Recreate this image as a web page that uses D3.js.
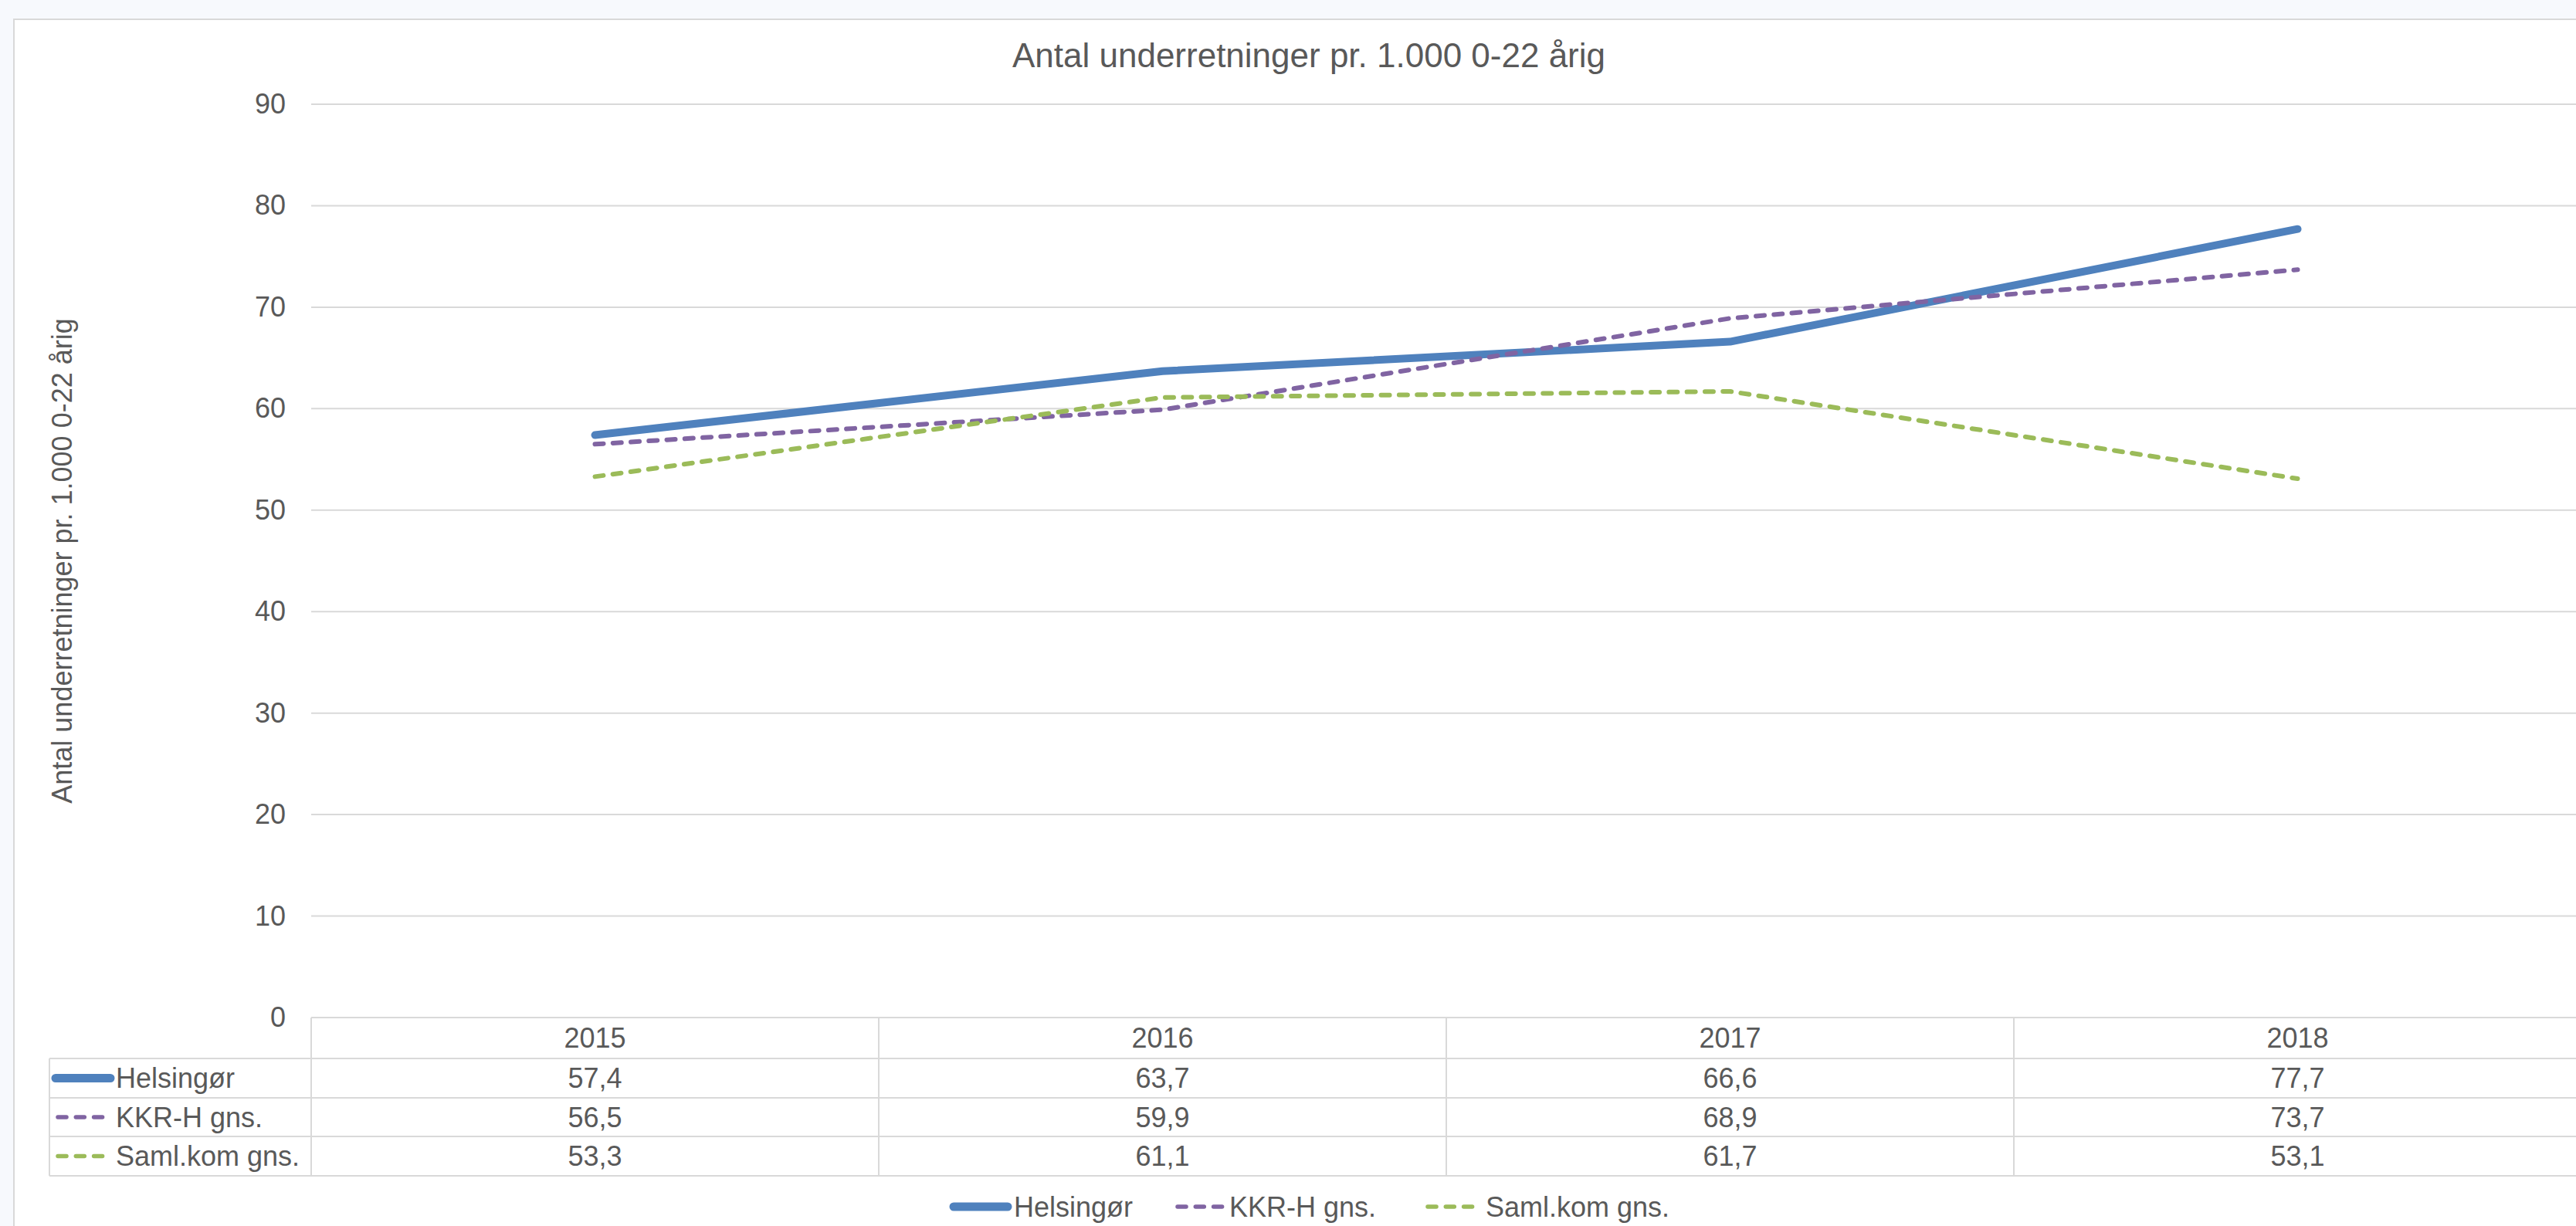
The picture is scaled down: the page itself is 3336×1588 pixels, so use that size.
<!DOCTYPE html>
<html><head><meta charset="utf-8">
<script src="https://cdn.jsdelivr.net/npm/d3@7"></script>
<style>
html,body{margin:0;padding:0;background:#f7f9fd;}
svg{display:block;}
text{font-family:"Liberation Sans",Arial,sans-serif;fill:#595959;}
</style></head>
<body>
<svg id="c" width="3336" height="1588"></svg>
<script>
const categories = ["2015","2016","2017","2018"];
const seriesNames = ["Helsingør","KKR-H gns.","Saml.kom gns."];
const helsingor = [57.4, 63.7, 66.6, 77.7];
const kkrh = [56.5, 59.9, 68.9, 73.7];
const samlkom = [53.3, 61.1, 61.7, 53.1];
const yTicks = [0,10,20,30,40,50,60,70,80,90];
const chartTitle = "Antal underretninger pr. 1.000 0-22 årig";
const yTitle = "Antal underretninger  pr. 1.000 0-22 årig";

const seriesValues = [helsingor, kkrh, samlkom];
const styles = [
  {color:"#4f81bd", width:10, dash:null},
  {color:"#8064a2", width:6, dash:"11,12.3"},
  {color:"#9bbb59", width:6, dash:"11,12.3"}
];

const svg = d3.select("#c");
const plotL = 403, plotR = 3343, plotT = 135, plotB = 1318;
const fmt = v => v.toFixed(1).replace(".", ",");
const FS = 36;

// chart frame
svg.append("rect").attr("x",18).attr("y",25).attr("width",3400).attr("height",1700)
  .attr("fill","#ffffff").attr("stroke","#d9d9d9").attr("stroke-width",2);

const x = d3.scaleBand().domain(categories).range([plotL, plotR]).paddingInner(0).paddingOuter(0);
const y = d3.scaleLinear().domain([0,90]).range([plotB, plotT]);

// gridlines
svg.append("g").selectAll("line").data(yTicks.filter(d=>d>0)).join("line")
  .attr("x1",plotL).attr("x2",plotR).attr("y1",d=>y(d)).attr("y2",d=>y(d))
  .attr("stroke","#d9d9d9").attr("stroke-width",2);

// y axis
const yAxis = d3.axisLeft(y).tickValues(yTicks).tickSize(0).tickPadding(33).tickFormat(d3.format("d"));
const gy = svg.append("g").attr("transform",`translate(${plotL},0)`).call(yAxis);
gy.select(".domain").remove();
gy.selectAll("text").attr("font-size",FS).style("font-family","Liberation Sans, Arial, sans-serif").attr("fill","#595959");

// data table
const rowLines = [1318, 1371, 1422, 1472, 1523];
const tableL = 64;
const tg = svg.append("g").attr("stroke","#d9d9d9").attr("stroke-width",2);
tg.append("line").attr("x1",plotL).attr("x2",plotR).attr("y1",rowLines[0]).attr("y2",rowLines[0]);
rowLines.slice(1).forEach(yy=>{
  tg.append("line").attr("x1",tableL).attr("x2",plotR).attr("y1",yy).attr("y2",yy);
});
tg.append("line").attr("x1",tableL).attr("x2",tableL).attr("y1",rowLines[1]).attr("y2",rowLines[4]);
categories.forEach(c=>{
  const xx = x(c);
  tg.append("line").attr("x1",xx).attr("x2",xx).attr("y1",rowLines[0]).attr("y2",rowLines[4]);
});

// header labels
svg.append("g").selectAll("text").data(categories).join("text")
  .attr("x",d=>x(d)+x.bandwidth()/2).attr("y",(rowLines[0]+rowLines[1])/2)
  .attr("text-anchor","middle").attr("dominant-baseline","central").attr("font-size",FS).text(d=>d);

// value rows
seriesValues.forEach((vals,i)=>{
  const cy = (rowLines[i+1]+rowLines[i+2])/2;
  svg.append("g").selectAll("text").data(vals).join("text")
    .attr("x",(d,j)=>x(categories[j])+x.bandwidth()/2).attr("y",cy)
    .attr("text-anchor","middle").attr("dominant-baseline","central").attr("font-size",FS).text(d=>fmt(d));
  const st = styles[i];
  const sx1 = i===0 ? 72 : 75, sx2 = i===0 ? 143 : 133;
  svg.append("line").attr("x1",sx1).attr("x2",sx2).attr("y1",cy).attr("y2",cy)
    .attr("stroke",st.color).attr("stroke-width",i===0?11:5.5).attr("stroke-linecap","round")
    .attr("stroke-dasharray", st.dash);
  svg.append("text").attr("x",150).attr("y",cy).attr("dominant-baseline","central")
    .attr("font-size",FS).text(seriesNames[i]);
});

// lines
const line = d3.line().x((d,j)=>x(categories[j])+x.bandwidth()/2).y(d=>y(d));
seriesValues.forEach((vals,i)=>{
  const st = styles[i];
  svg.append("path").datum(vals).attr("d",line).attr("fill","none")
    .attr("stroke",st.color).attr("stroke-width",st.width)
    .attr("stroke-linecap","round").attr("stroke-linejoin","round")
    .attr("stroke-dasharray",st.dash);
});

// title
svg.append("text").attr("x",1695).attr("y",87).attr("text-anchor","middle")
  .attr("font-size",44).text(chartTitle);

// y axis title
svg.append("text").attr("transform",`translate(80,${(plotT+plotB)/2}) rotate(-90)`)
  .attr("text-anchor","middle").attr("dominant-baseline","central").attr("font-size",FS).text(yTitle);

// legend
const legY = 1563;
const legItems = [
  {sx1:1235, sx2:1305, tx:1313},
  {sx1:1525, sx2:1583, tx:1592},
  {sx1:1849, sx2:1907, tx:1924}
];
legItems.forEach((it,i)=>{
  const st = styles[i];
  svg.append("line").attr("x1",it.sx1).attr("x2",it.sx2).attr("y1",legY).attr("y2",legY)
    .attr("stroke",st.color).attr("stroke-width",i===0?11:5.5).attr("stroke-linecap","round")
    .attr("stroke-dasharray", st.dash);
  svg.append("text").attr("x",it.tx).attr("y",legY).attr("dominant-baseline","central")
    .attr("font-size",FS).text(seriesNames[i]);
});
</script>
</body></html>
